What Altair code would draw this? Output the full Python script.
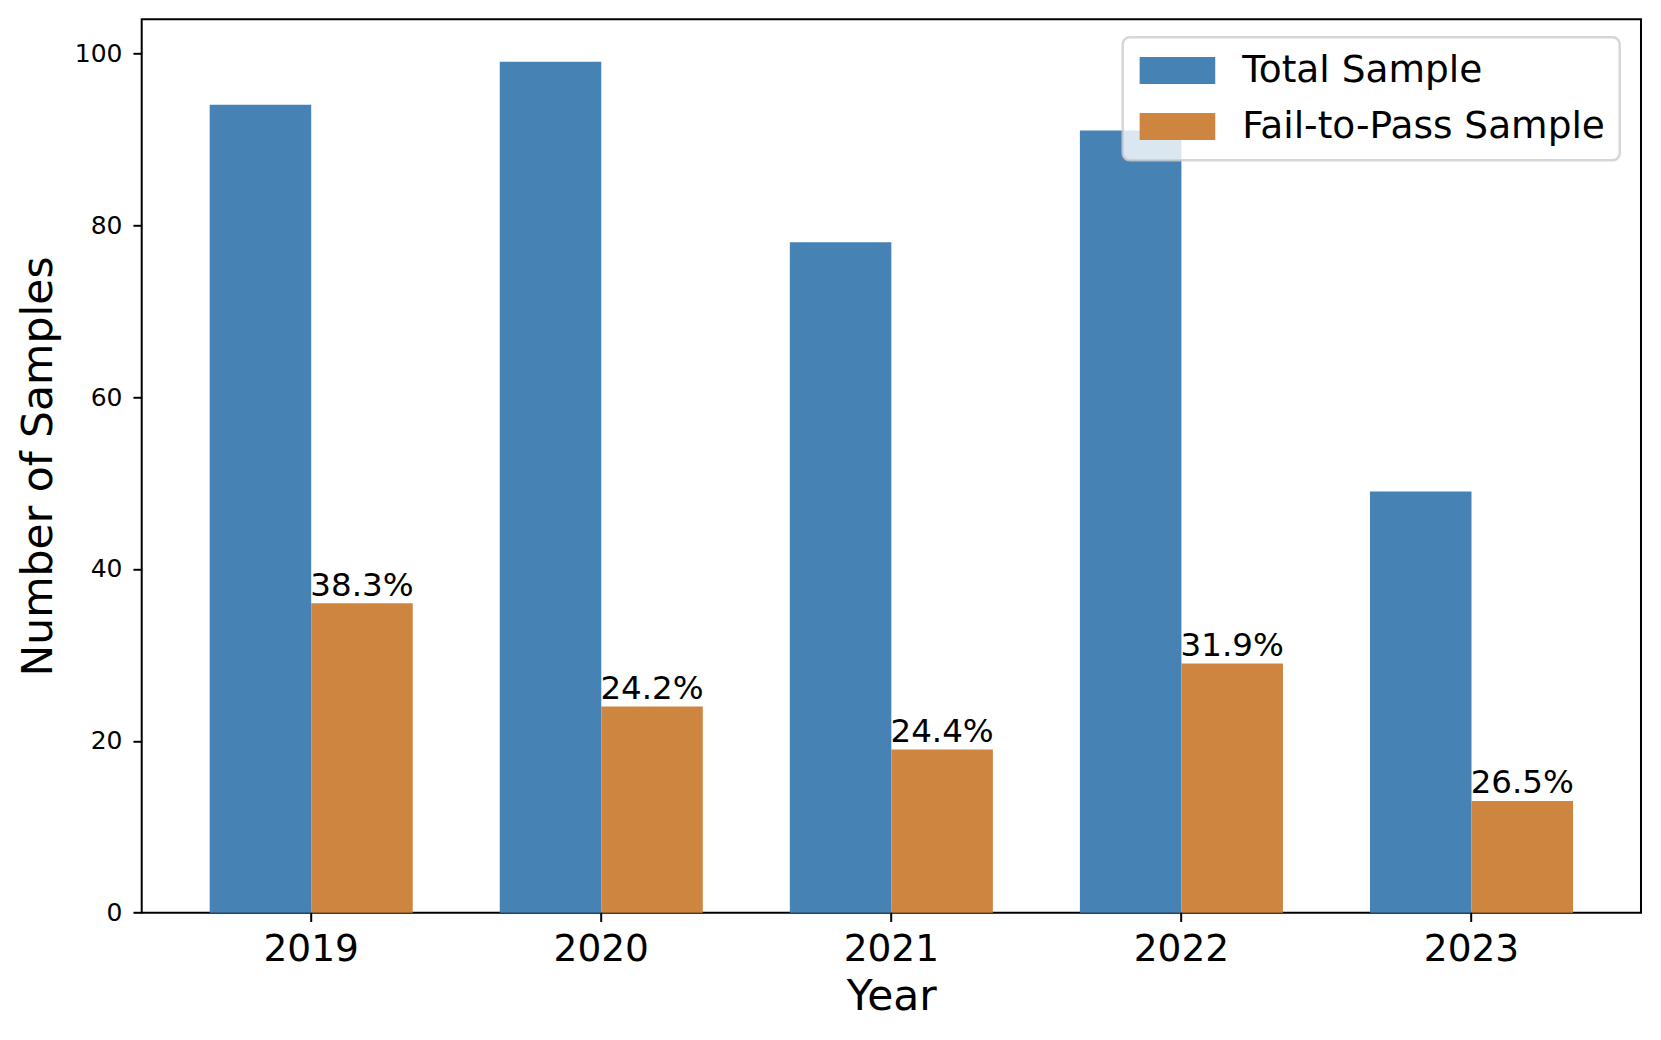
import altair as alt
import pandas as pd

years = ["2019", "2020", "2021", "2022", "2023"]
total_sample = [94, 99, 78, 91, 49]
fail_to_pass = [36, 24, 19, 29, 13]
series_names = ["Total Sample", "Fail-to-Pass Sample"]
series_colors = ["#4682B4", "#CD853F"]
y_ticks = [0, 20, 40, 60, 80, 100]

rows = []
for i, yr in enumerate(years):
    rows.append({"year": yr, "series": series_names[0], "value": total_sample[i], "label": ""})
    pct = fail_to_pass[i] / total_sample[i] * 100
    rows.append({"year": yr, "series": series_names[1], "value": fail_to_pass[i], "label": f"{pct:.1f}%"})
df = pd.DataFrame(rows)
df_fail = df[df["series"] == series_names[1]]

FONT = "DejaVu Sans"

x_enc = alt.X(
    "year:N",
    sort=years,
    scale=alt.Scale(paddingInner=0.3, paddingOuter=0.2343),
    axis=alt.Axis(
        title="Year",
        labelAngle=0,
        labelFontSize=37.5,
        labelBaseline="alphabetic",
        labelPadding=39.5,
        titleFontSize=42.5,
        titleFontWeight="normal",
        titleBaseline="alphabetic",
        titleAlign="center",
        titleX=749.6,
        titleY=97.3,
    ),
)
y_enc = alt.Y(
    "value:Q",
    scale=alt.Scale(domain=[0, 103.95], nice=False, zero=True),
    axis=alt.Axis(
        title="Number of Samples",
        values=y_ticks,
        labelFontSize=25,
        labelPadding=11,
        titleFontSize=42.5,
        titleFontWeight="normal",
        titleAngle=270,
        titleBaseline="alphabetic",
        titleAlign="center",
        titleX=-90,
        titleY=446.7,
    ),
)
xoff = alt.XOffset(
    "series:N",
    sort=series_names,
    scale=alt.Scale(domain=series_names, paddingInner=0, paddingOuter=0),
)

bars = alt.Chart(df).mark_bar(opacity=1).encode(
    x=x_enc,
    y=y_enc,
    xOffset=xoff,
    color=alt.Color(
        "series:N",
        sort=series_names,
        scale=alt.Scale(domain=series_names, range=series_colors),
        legend=alt.Legend(
            title=None,
            orient="none",
            legendX=981,
            legendY=18,
            symbolType="M-2.8,-1H2.8V1H-2.8Z",
            symbolSize=729,
            symbolOffset=21.5,
            symbolStrokeWidth=0,
            symbolOpacity=1,
            labelOffset=46,
            labelFontSize=37.5,
            labelFont=FONT,
            labelLimit=600,
            labelColor="black",
            rowPadding=17,
            padding=14.5,
            fillColor="rgba(255,255,255,0.8)",
            strokeColor="rgba(204,204,204,0.8)",
            cornerRadius=7,
        ),
    ),
)

texts = alt.Chart(df_fail).mark_text(
    dy=-7.6, baseline="alphabetic", align="center", fontSize=32.5, font=FONT, color="black"
).encode(
    x=alt.X("year:N", sort=years),
    y=alt.Y("value:Q"),
    xOffset=alt.XOffset("series:N", sort=series_names),
    text="label:N",
)

chart = (
    alt.layer(bars, texts)
    .properties(
        width=1499.3,
        height=893.4,
        autosize=alt.AutoSizeParams(type="none"),
        padding={"left": 133.7, "top": 11.3, "right": 10, "bottom": 110},
        background="white",
    )
    .configure_view(stroke="black", strokeWidth=2)
    .configure_axis(
        domain=False,
        grid=False,
        tickColor="black",
        tickWidth=2,
        tickSize=8.75,
        labelColor="black",
        titleColor="black",
        labelFont=FONT,
        titleFont=FONT,
    )
    .configure_legend(strokeWidth=2.5)
)

chart.save("out.html", embed_options={"renderer": "svg", "actions": False})
